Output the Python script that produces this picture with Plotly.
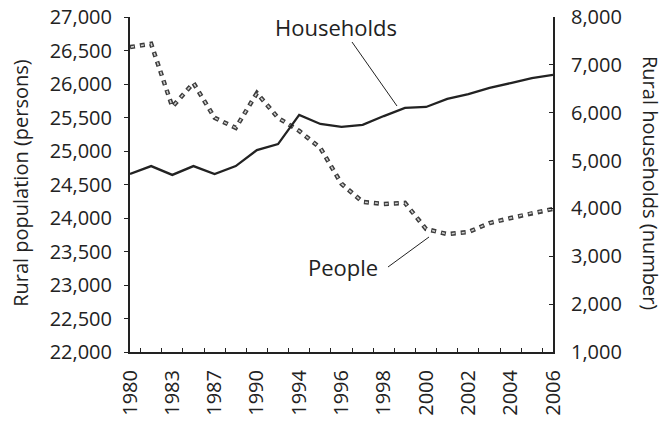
import plotly.graph_objects as go

# Survey years (the odd in-between years carry no tick label)
years = ["1980", "1981", "1983", "1985", "1987", "1988", "1990", "1992",
         "1994", "1995", "1996", "1997", "1998", "1999", "2000", "2001",
         "2002", "2003", "2004", "2005", "2006"]
labelled_years = ["1980", "1983", "1987", "1990", "1994", "1996", "1998",
                  "2000", "2002", "2004", "2006"]

# Rural population (persons), left axis
people = [26550, 26600, 25660, 26015, 25495, 25345, 25865, 25495, 25300,
          25045, 24510, 24240, 24210, 24225, 23835, 23760, 23790, 23925,
          24000, 24075, 24135]

# Rural households (number), right axis
households = [4720, 4885, 4700, 4885, 4720, 4885, 5220, 5345, 5955, 5765,
              5705, 5745, 5930, 6100, 6120, 6290, 6390, 6520, 6620, 6725,
              6790]

INK = "#222222"
FONT = "Open Sans"

fig = go.Figure()

# People: hollow square-dot line (dark dashes with a light core)
fig.add_trace(go.Scatter(
    x=years, y=people, mode="lines", yaxis="y",
    line=dict(color="#3c3c3c", width=4.5, dash="5px,5px"),
    hoverinfo="skip", showlegend=False))
fig.add_trace(go.Scatter(
    x=years, y=people, mode="lines", yaxis="y",
    line=dict(color="#d0d0d0", width=1.5, dash="0px,1px,3px,6px"),
    name="People", showlegend=False))

# Households: solid line
fig.add_trace(go.Scatter(
    x=years, y=households, mode="lines", yaxis="y2",
    line=dict(color=INK, width=2.3),
    name="Households", showlegend=False))

ticktext = [y if y in labelled_years else "" for y in years]

fig.update_layout(
    width=665, height=422,
    margin=dict(l=130, r=112, t=17, b=70, autoexpand=False),
    paper_bgcolor="white", plot_bgcolor="white",
    font=dict(family=FONT, size=20, color=INK),
    xaxis=dict(
        type="category", categoryorder="array", categoryarray=years,
        tickmode="array", tickvals=years, ticktext=ticktext,
        tickson="boundaries", ticks="inside", ticklen=4, tickwidth=1.2,
        tickcolor=INK, tickangle=-90, showline=True, linecolor=INK,
        linewidth=2, showgrid=False, zeroline=False, ticklabelstandoff=8,
        automargin=False,
        tickfont=dict(family=FONT, size=20, color=INK)),
    yaxis=dict(
        range=[22000, 27000], tickmode="linear", tick0=22000, dtick=500,
        tickformat=",d", ticks="outside", ticklen=4, tickwidth=1.2,
        tickcolor=INK, showline=True, linecolor=INK, linewidth=2,
        showgrid=False, zeroline=False, ticklabelstandoff=8,
        automargin=False,
        tickfont=dict(family=FONT, size=20, color=INK)),
    yaxis2=dict(
        range=[1000, 8000], tickmode="linear", tick0=1000, dtick=1000,
        tickformat=",d", overlaying="y", side="right", ticks="inside",
        ticklen=4, tickwidth=1.2, tickcolor=INK, showline=True,
        linecolor=INK, linewidth=2, showgrid=False, zeroline=False,
        ticklabelstandoff=12, automargin=False,
        tickfont=dict(family=FONT, size=20, color=INK)),
    annotations=[
        dict(text="Rural population (persons)", xref="paper", yref="paper",
             x=-0.258, y=0.5045, textangle=-90, showarrow=False,
             xanchor="center", yanchor="middle",
             font=dict(family=FONT, size=20, color=INK)),
        dict(text="Rural households (number)", xref="paper", yref="paper",
             x=1.2293, y=0.5045, textangle=90, showarrow=False,
             xanchor="center", yanchor="middle",
             font=dict(family=FONT, size=20, color=INK)),
        dict(text="Households", xref="paper", yref="paper",
             x=0.4870, y=0.970, showarrow=False,
             xanchor="center", yanchor="middle",
             font=dict(family=FONT, size=22, color=INK)),
        dict(text="People", xref="paper", yref="paper",
             x=0.5910, y=0.2537, showarrow=False,
             xanchor="right", yanchor="middle",
             font=dict(family=FONT, size=22, color=INK)),
    ],
    shapes=[
        # leader lines from the labels to their series
        dict(type="line", xref="paper", yref="paper",
             x0=0.5248, y0=0.9254, x1=0.6312, y1=0.7343,
             line=dict(color=INK, width=1)),
        dict(type="line", xref="paper", yref="paper",
             x0=0.6099, y0=0.2537, x1=0.7069, y1=0.3433,
             line=dict(color=INK, width=1)),
    ],
)

fig.write_html("out.html")
